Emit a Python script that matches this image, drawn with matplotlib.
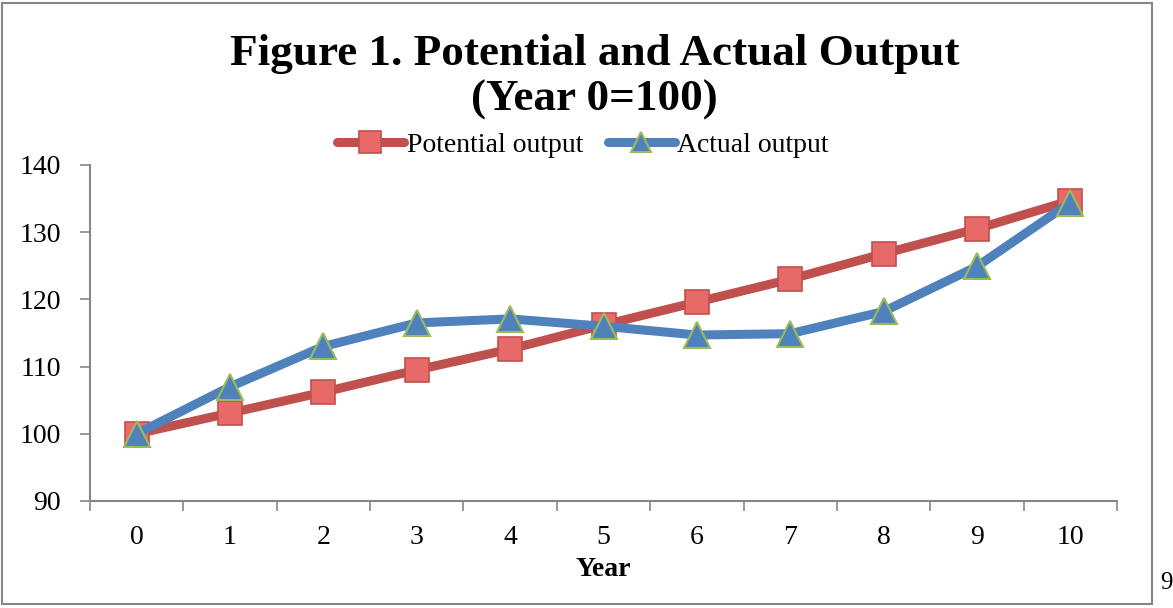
import matplotlib.pyplot as plt
from matplotlib.patches import Rectangle
from matplotlib.lines import Line2D

years = list(range(11))
potential = [100.0, 103.1, 106.2, 109.5, 112.6, 116.2, 119.6, 123.0, 126.8, 130.5, 134.7]
actual = [100.0, 107.0, 113.0, 116.5, 117.1, 116.0, 114.7, 114.9, 118.2, 124.9, 134.4]
y_ticks = [90, 100, 110, 120, 130, 140]

RED = "#C0504D"
RED_FILL = "#E86A68"
BLUE = "#4F81BD"
GREEN = "#9BBB59"
GRAY = "#868686"
SERIF = ["Liberation Serif", "DejaVu Serif"]

plt.rcParams["font.family"] = SERIF

fig = plt.figure(figsize=(11.73, 6.08), dpi=100)
ax = fig.add_axes([90 / 1173, 1 - 501 / 608, (1117 - 90) / 1173, (501 - 165) / 608])

ax.plot(years, potential, color=RED, lw=6.5, solid_capstyle="round",
        marker="s", ms=17, mfc=RED_FILL, mec=RED, mew=1.2, zorder=3)
ax.plot(years, actual, color=BLUE, lw=6.5, solid_capstyle="round",
        marker="^", ms=19, mfc=BLUE, mec=GREEN, mew=1.5, zorder=4)

ax.set_xlim(-0.5, 10.5)
ax.set_ylim(90, 140)
ax.set_yticks(y_ticks)
ax.set_yticklabels([str(v) for v in y_ticks], fontsize=20)
ax.set_xticks(years)
ax.set_xticklabels([str(y) for y in years], fontsize=20)
ax.set_xticks([x - 0.5 for x in range(12)], minor=True)
ax.tick_params(axis="x", which="major", length=0, pad=17)
ax.tick_params(axis="x", which="minor", length=7, color=GRAY, width=1.2)
ax.tick_params(axis="y", length=7, color=GRAY, width=1.2, pad=14)
ax.set_xlabel("Year", fontsize=20, fontweight="bold", labelpad=5)

for side in ["top", "right"]:
    ax.spines[side].set_visible(False)
for side in ["left", "bottom"]:
    ax.spines[side].set_color(GRAY)
    ax.spines[side].set_linewidth(1.5)

fig.text(0.507, 1 - 77 / 608, "Figure 1. Potential and Actual Output\n(Year 0=100)",
         ha="center", va="center", fontsize=32.5, fontweight="bold",
         linespacing=1.2)

handles = [
    Line2D([], [], color=RED, lw=6.5, solid_capstyle="round", marker="s", ms=16,
           mfc=RED_FILL, mec=RED, mew=1.2),
    Line2D([], [], color=BLUE, lw=6.5, solid_capstyle="round", marker="^", ms=15,
           mfc=BLUE, mec=GREEN, mew=1.5),
]
fig.legend(handles, ["Potential output", "Actual output"], loc="center",
           bbox_to_anchor=(583 / 1173, 1 - 145 / 608), ncol=2, frameon=False,
           fontsize=20, handlelength=2.4, handletextpad=0.1, columnspacing=0.9)

fig.patches.append(Rectangle((2 / 1173, 4 / 608), 1150 / 1173, 601 / 608,
                             transform=fig.transFigure, fill=False,
                             edgecolor=GRAY, lw=1.5))
fig.text(1160 / 1173, 1 - 583 / 608, "9", ha="left", va="center", fontsize=18)

fig.savefig("out.png", dpi=100)
